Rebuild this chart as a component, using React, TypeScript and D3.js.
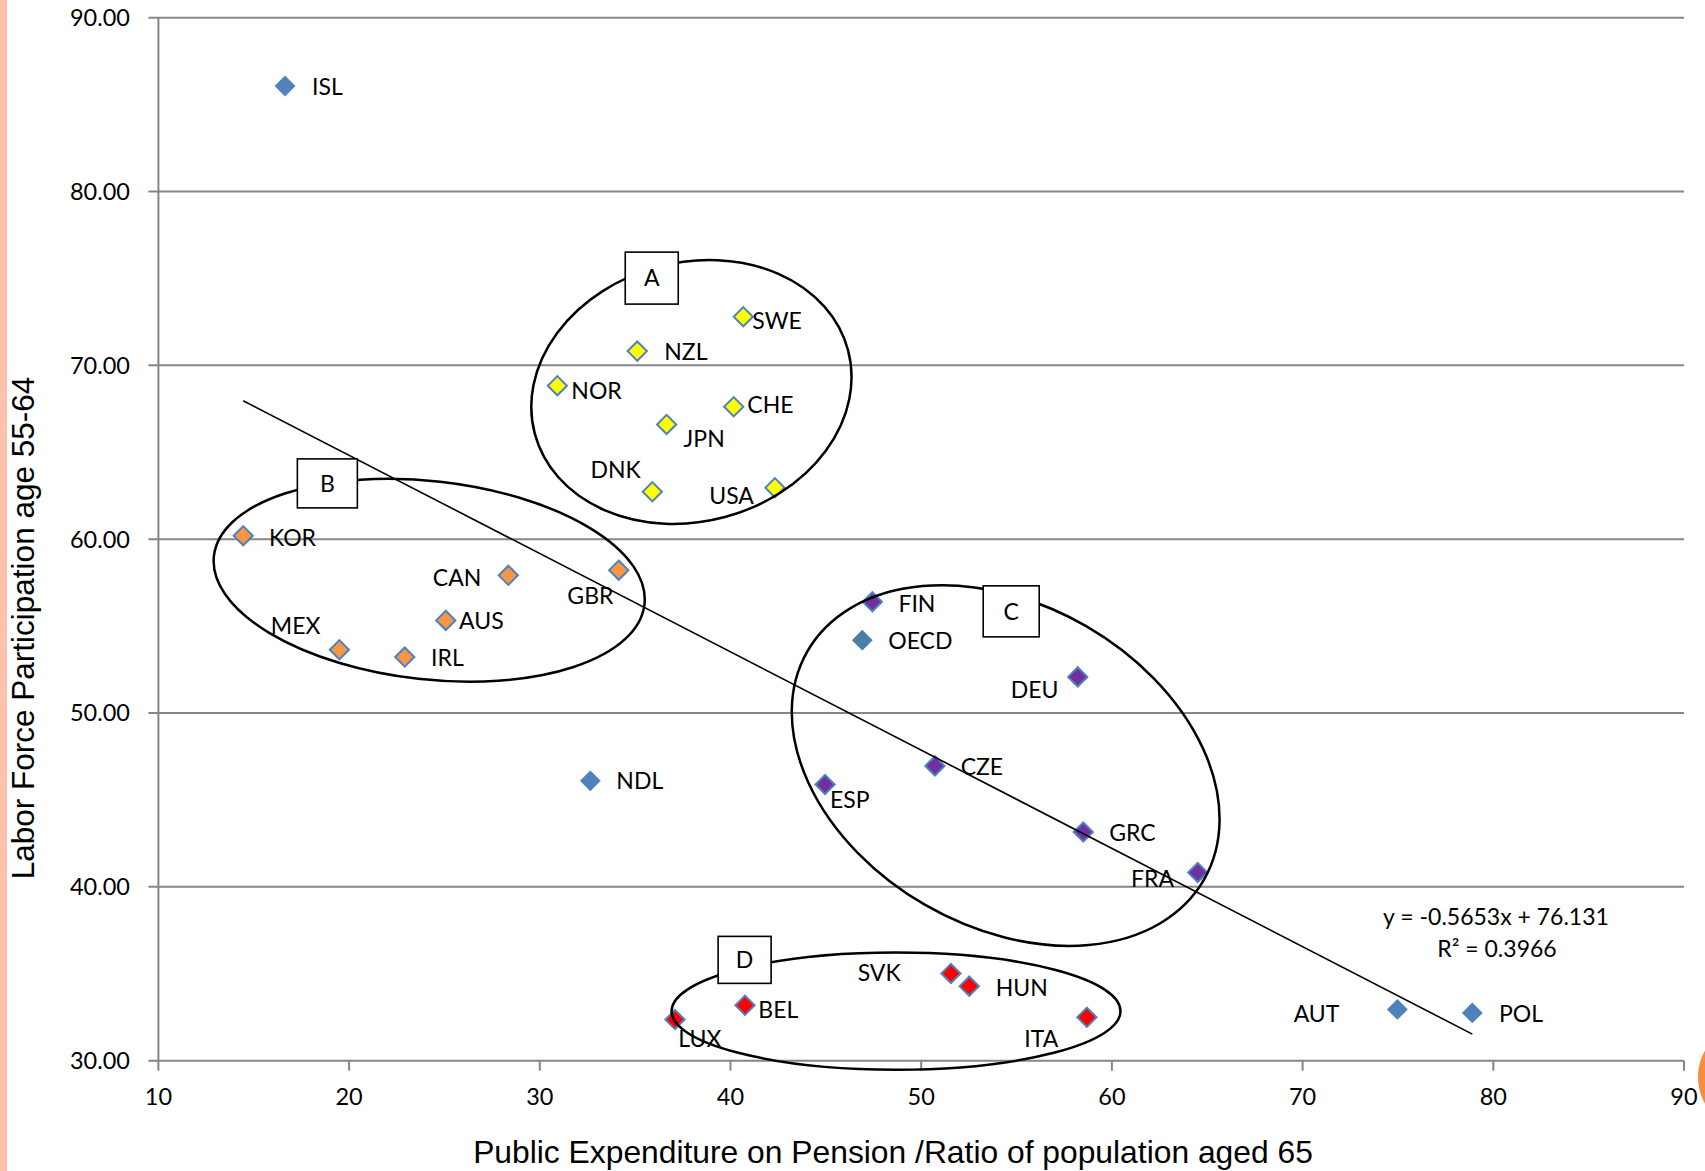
import { useMemo } from 'react';
import * as d3 from 'd3';

// OECD countries: pension spending ratio vs labour force participation (55-64)
const countries = [
    'ISL', 'SWE', 'NZL', 'NOR', 'CHE', 'JPN', 'DNK', 'USA',
    'KOR', 'CAN', 'GBR', 'AUS', 'MEX', 'IRL', 'NDL',
    'FIN', 'OECD', 'DEU', 'CZE', 'ESP', 'GRC', 'FRA',
    'SVK', 'HUN', 'BEL', 'LUX', 'ITA', 'AUT', 'POL',
];
const pensionRatio = [
    16.64, 40.67, 35.11, 30.92, 40.17, 36.65, 35.9, 42.33,
    14.45, 28.35, 34.14, 25.07, 19.49, 22.92, 32.65,
    47.44, 46.91, 58.21, 50.72, 44.96, 58.5, 64.5,
    51.56, 52.52, 40.76, 37.09, 58.69, 74.97, 78.9,
];
const participation = [
    86.07, 72.8, 70.82, 68.83, 67.62, 66.6, 62.73, 62.96,
    60.2, 57.92, 58.22, 55.33, 53.64, 53.22, 46.1,
    56.4, 54.19, 52.08, 46.96, 45.89, 43.16, 40.83,
    35.02, 34.29, 33.19, 32.37, 32.5, 32.95, 32.75,
];
const groups = [
    '-', 'A', 'A', 'A', 'A', 'A', 'A', 'A',
    'B', 'B', 'B', 'B', 'B', 'B', '-',
    'C', 'OECD', 'C', 'C', 'C', 'C', 'C',
    'D', 'D', 'D', 'D', 'D', '-', '-',
];

const trendSlope = -0.5653;
const trendIntercept = 76.131;
const trendText = ['y = -0.5653x + 76.131', 'R² = 0.3966'];

const xTicks = [10, 20, 30, 40, 50, 60, 70, 80, 90];
const yTicks = [30, 40, 50, 60, 70, 80, 90];

const clusterNames = ['A', 'B', 'C', 'D'];

// annotation layout (data units; radii in x units)
const clusterShape = {
    A: { cx: 37.95, cy: 68.47, rx: 8.5, ry: 6.79, tilt: -15, tx: 35.87, ty: 75.02, w: 53, h: 52 },
    B: { cx: 24.2, cy: 57.64, rx: 11.36, ry: 5.2, tilt: 6.4, tx: 18.86, ty: 63.21, w: 60, h: 49 },
    C: { cx: 54.43, cy: 46.98, rx: 12.0, ry: 8.44, tilt: 30, tx: 54.72, ty: 55.85, w: 56, h: 51 },
    D: { cx: 48.68, cy: 32.85, rx: 11.77, ry: 3.07, tilt: 0, tx: 40.74, ty: 35.8, w: 53, h: 47 },
};

// label placement: anchor, dx, dy (px from marker)
const labelPos: Record<string, [string, number, number]> = {
    ISL: ['start', 27, 1], SWE: ['start', 9, 4.5], NZL: ['start', 27, 0.7],
    NOR: ['start', 14, 4.6], CHE: ['start', 13.6, -1.7], JPN: ['start', 17, 14.7],
    DNK: ['end', -11.6, -21.7], USA: ['end', -21, 8.3], KOR: ['start', 25.7, 1.7],
    CAN: ['end', -27, 2], GBR: ['end', -5.3, 25.7], AUS: ['start', 13.3, 0.7],
    MEX: ['end', -19, -23.7], IRL: ['start', 26.3, 0.7], NDL: ['start', 26, 0],
    FIN: ['start', 26, 1.6], OECD: ['start', 26, 1], DEU: ['end', -19.4, 13.3],
    CZE: ['start', 25.7, 1], ESP: ['start', 5, 15.7], GRC: ['start', 26, 0.7],
    FRA: ['end', -23.7, 6], SVK: ['end', -50.3, -1], HUN: ['start', 26.4, 1.7],
    BEL: ['start', 13.3, 4.3], LUX: ['start', 3.3, 19], ITA: ['end', -28.7, 21.3],
    AUT: ['end', -58, 4], POL: ['start', 26.7, 0.7],
};

const fills: Record<string, string> = {
    '-': '#4F81BD',
    OECD: '#4A7EA2',
    A: '#FFFF00',
    B: '#F79646',
    C: '#7030A0',
    D: '#FF0000',
};

const WIDTH = 1705;
const HEIGHT = 1171;
const FONT = 'Lato, "Open Sans", sans-serif';

export default function App() {
    const x = useMemo(() => d3.scaleLinear().domain([10, 90]).range([158.4, 1684]), []);
    const y = useMemo(() => d3.scaleLinear().domain([30, 90]).range([1060.7, 17.7]), []);
    const unit = x(11) - x(10);

    // symbolDiamond2 half-diagonal = sqrt(size) * 0.62625
    const plainDiamond = d3.symbol(d3.symbolDiamond2, (10.4 / 0.62625) ** 2)();
    const edgedDiamond = d3.symbol(d3.symbolDiamond2, (9.6 / 0.62625) ** 2)();

    const [xMin, xMax] = d3.extent(pensionRatio) as [number, number];
    const trendLine = d3.line<number>()
        .x((d) => x(d))
        .y((d) => y(trendSlope * d + trendIntercept))([xMin, xMax]);

    return (
        <svg
            width={WIDTH}
            height={HEIGHT}
            viewBox={`0 0 ${WIDTH} ${HEIGHT}`}
            style={{ position: 'absolute', left: 0, top: 0, background: '#fff' }}
        >
            <rect x={0} y={0} width={7} height={HEIGHT} fill="#FDC2AC" />
            <circle cx={1752} cy={1077} r={54} fill="#F68E3E" />

            {/* gridlines + y axis ticks */}
            <g fontFamily={FONT} fontSize={23.5} fill="#000">
                {yTicks.map((t) => (
                    <g key={t}>
                        <line x1={x(10) - 10} x2={x(90)} y1={y(t)} y2={y(t)} stroke="#868686" strokeWidth={2} />
                        <text x={130} y={y(t) + 8.4} textAnchor="end">
                            {d3.format('.2f')(t)}
                        </text>
                    </g>
                ))}
                <line x1={x(10)} x2={x(10)} y1={y(90)} y2={y(30)} stroke="#868686" strokeWidth={2} />
                {xTicks.map((t) => (
                    <g key={t}>
                        <line x1={x(t)} x2={x(t)} y1={y(30)} y2={y(30) + 10} stroke="#868686" strokeWidth={2} />
                        <text x={x(t)} y={1105} textAnchor="middle">
                            {t}
                        </text>
                    </g>
                ))}
            </g>

            {/* markers */}
            {countries.map((c, i) => {
                const g = groups[i];
                const outlined = g !== '-' && g !== 'OECD';
                return (
                    <path
                        key={c}
                        d={(outlined ? edgedDiamond : plainDiamond)!}
                        transform={`translate(${x(pensionRatio[i])},${y(participation[i])})`}
                        fill={fills[g]}
                        stroke={outlined ? '#4F81BD' : 'none'}
                        strokeWidth={outlined ? 2 : 0}
                    />
                );
            })}

            {/* labels */}
            <g fontFamily={FONT} fontSize={23} fill="#000">
                {countries.map((c, i) => {
                    const [anchor, dx, dy] = labelPos[c];
                    return (
                        <text
                            key={c}
                            x={x(pensionRatio[i]) + dx}
                            y={y(participation[i]) + dy + 8.3}
                            textAnchor={anchor}
                        >
                            {c}
                        </text>
                    );
                })}
            </g>

            {/* linear trend */}
            <path d={trendLine!} fill="none" stroke="#000" strokeWidth={1.6} />
            <g fontFamily={FONT} fontSize={23} textAnchor="middle">
                <text x={1496} y={925}>{trendText[0]}</text>
                <text x={1497} y={957}>{trendText[1]}</text>
            </g>

            {/* cluster ellipses and tags */}
            {clusterNames.map((k) => {
                const s = clusterShape[k as keyof typeof clusterShape];
                const cx = x(s.cx);
                const cy = y(s.cy);
                return (
                    <ellipse
                        key={k}
                        cx={cx}
                        cy={cy}
                        rx={s.rx * unit}
                        ry={s.ry * unit}
                        transform={`rotate(${s.tilt},${cx},${cy})`}
                        fill="none"
                        stroke="#000"
                        strokeWidth={2.5}
                    />
                );
            })}
            {clusterNames.map((k) => {
                const s = clusterShape[k as keyof typeof clusterShape];
                const tx = x(s.tx);
                const ty = y(s.ty);
                return (
                    <g key={k}>
                        <rect
                            x={tx - s.w / 2}
                            y={ty - s.h / 2}
                            width={s.w}
                            height={s.h}
                            fill="#fff"
                            stroke="#000"
                            strokeWidth={1.6}
                        />
                        <text
                            x={tx}
                            y={ty + 8.3}
                            textAnchor="middle"
                            fontFamily={FONT}
                            fontSize={23}
                        >
                            {k}
                        </text>
                    </g>
                );
            })}

            {/* axis titles */}
            <text
                transform="translate(34,628) rotate(-90)"
                textAnchor="middle"
                fontFamily='"Liberation Sans", Arial, sans-serif'
                fontSize={31.5}
            >
                Labor Force Participation age 55-64
            </text>
            <text
                x={893}
                y={1163}
                textAnchor="middle"
                fontFamily='"Liberation Sans", Arial, sans-serif'
                fontSize={31.8}
            >
                Public Expenditure on Pension /Ratio of population aged 65
            </text>
        </svg>
    );
}
